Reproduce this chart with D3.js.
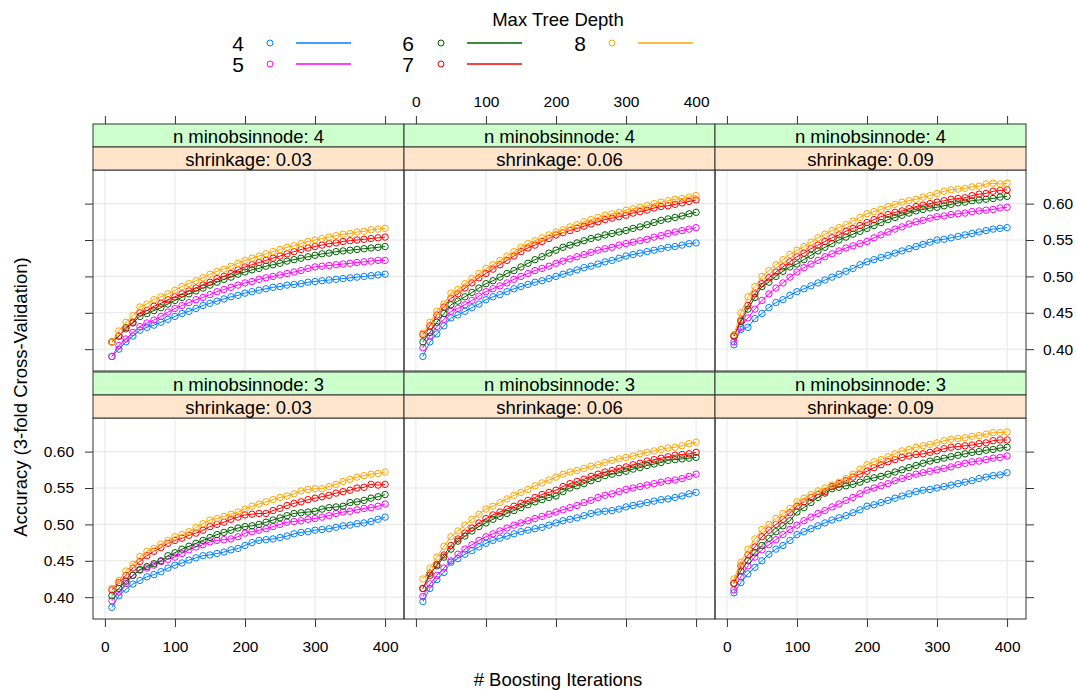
<!DOCTYPE html>
<html>
<head>
<meta charset="utf-8">
<script src="https://cdn.jsdelivr.net/npm/d3@7"></script>
<style>
  body { margin: 0; background: #fff; }
  text { font-family: "Liberation Sans", Arial, sans-serif; fill: #000; }
</style>
</head>
<body>
<div id="chart"></div>
<script>
// boosting iterations (x values of every series)
var iterations = [10,20,30,40,50,60,70,80,90,100,110,120,130,140,150,160,170,180,190,200,
                  210,220,230,240,250,260,270,280,290,300,310,320,330,340,350,360,370,380,390,400];
var depths = [4, 5, 6, 7, 8];
var depthColors = ["#0080ff", "#ff00ff", "#006400", "#ff0000", "#ffa500"];
var xTicks = [0, 100, 200, 300, 400];
var yTicks = [0.40, 0.45, 0.50, 0.55, 0.60];

// n.minobsinnode 4, shrinkage 0.03
var m4s03_d4 = [0.390,0.400,0.410,0.418,0.426,0.430,0.433,0.437,0.441,0.445,0.449,0.452,0.456,0.460,0.463,0.466,0.469,0.472,0.474,0.477,0.479,0.481,0.483,0.485,0.486,0.488,0.489,0.490,0.492,0.493,0.494,0.495,0.496,0.497,0.498,0.499,0.500,0.501,0.502,0.503];
var m4s03_d5 = [0.390,0.405,0.414,0.423,0.431,0.436,0.440,0.445,0.451,0.456,0.460,0.464,0.468,0.471,0.475,0.479,0.482,0.485,0.488,0.491,0.493,0.496,0.498,0.500,0.502,0.504,0.506,0.508,0.511,0.513,0.514,0.515,0.516,0.517,0.518,0.519,0.520,0.521,0.522,0.522];
var m4s03_d6 = [0.410,0.418,0.430,0.436,0.445,0.449,0.453,0.457,0.462,0.467,0.471,0.476,0.480,0.484,0.488,0.492,0.496,0.499,0.503,0.506,0.509,0.511,0.514,0.516,0.518,0.521,0.523,0.525,0.527,0.529,0.531,0.532,0.534,0.535,0.536,0.537,0.538,0.539,0.540,0.541];
var m4s03_d7 = [0.410,0.418,0.428,0.437,0.450,0.453,0.459,0.463,0.468,0.472,0.476,0.480,0.484,0.488,0.492,0.497,0.500,0.504,0.509,0.513,0.516,0.519,0.522,0.525,0.528,0.531,0.534,0.537,0.539,0.541,0.543,0.545,0.546,0.548,0.549,0.550,0.551,0.552,0.553,0.554];
var m4s03_d8 = [0.410,0.425,0.437,0.446,0.458,0.462,0.468,0.472,0.476,0.481,0.486,0.490,0.494,0.498,0.503,0.507,0.510,0.514,0.518,0.522,0.525,0.528,0.531,0.534,0.537,0.540,0.542,0.545,0.548,0.550,0.552,0.554,0.556,0.558,0.559,0.561,0.562,0.564,0.565,0.566];

// n.minobsinnode 4, shrinkage 0.06
var m4s06_d4 = [0.390,0.410,0.421,0.432,0.443,0.447,0.452,0.457,0.462,0.468,0.472,0.475,0.479,0.483,0.486,0.489,0.492,0.494,0.497,0.500,0.503,0.506,0.509,0.512,0.514,0.517,0.520,0.522,0.525,0.528,0.530,0.532,0.534,0.536,0.538,0.540,0.541,0.543,0.545,0.546];
var m4s06_d5 = [0.402,0.418,0.431,0.441,0.452,0.456,0.461,0.467,0.473,0.479,0.483,0.487,0.491,0.496,0.500,0.504,0.508,0.511,0.514,0.518,0.521,0.524,0.527,0.530,0.533,0.536,0.538,0.540,0.543,0.545,0.547,0.549,0.551,0.554,0.556,0.559,0.561,0.563,0.565,0.567];
var m4s06_d6 = [0.410,0.423,0.437,0.449,0.461,0.466,0.472,0.478,0.484,0.490,0.494,0.499,0.504,0.508,0.513,0.518,0.523,0.527,0.532,0.536,0.540,0.543,0.546,0.549,0.552,0.554,0.557,0.559,0.561,0.563,0.566,0.568,0.571,0.574,0.577,0.579,0.581,0.583,0.586,0.588];
var m4s06_d7 = [0.420,0.432,0.447,0.458,0.470,0.476,0.484,0.491,0.498,0.504,0.510,0.516,0.522,0.528,0.534,0.539,0.543,0.548,0.552,0.557,0.560,0.563,0.566,0.569,0.572,0.575,0.578,0.580,0.582,0.584,0.587,0.589,0.591,0.594,0.596,0.597,0.599,0.601,0.603,0.605];
var m4s06_d8 = [0.422,0.437,0.452,0.462,0.477,0.482,0.490,0.497,0.504,0.511,0.516,0.522,0.528,0.534,0.540,0.545,0.549,0.553,0.557,0.561,0.564,0.568,0.571,0.575,0.578,0.581,0.584,0.586,0.588,0.591,0.593,0.595,0.597,0.600,0.602,0.604,0.606,0.607,0.609,0.611];

// n.minobsinnode 4, shrinkage 0.09
var m4s09_d4 = [0.406,0.427,0.430,0.442,0.449,0.457,0.464,0.468,0.474,0.479,0.483,0.487,0.491,0.495,0.499,0.503,0.507,0.511,0.516,0.520,0.523,0.526,0.529,0.532,0.535,0.538,0.541,0.544,0.547,0.550,0.551,0.553,0.555,0.557,0.559,0.561,0.563,0.565,0.566,0.567];
var m4s09_d5 = [0.410,0.430,0.443,0.455,0.467,0.476,0.484,0.491,0.499,0.506,0.512,0.517,0.522,0.527,0.531,0.535,0.539,0.542,0.545,0.548,0.553,0.557,0.561,0.565,0.568,0.572,0.575,0.577,0.580,0.582,0.583,0.585,0.586,0.587,0.589,0.590,0.591,0.592,0.594,0.595];
var m4s09_d6 = [0.418,0.438,0.455,0.471,0.486,0.492,0.500,0.507,0.513,0.517,0.523,0.529,0.535,0.540,0.545,0.550,0.554,0.558,0.562,0.566,0.570,0.574,0.578,0.581,0.584,0.587,0.590,0.592,0.594,0.595,0.597,0.599,0.601,0.602,0.604,0.605,0.606,0.607,0.609,0.610];
var m4s09_d7 = [0.418,0.440,0.460,0.476,0.490,0.498,0.506,0.513,0.520,0.527,0.532,0.538,0.543,0.548,0.553,0.557,0.562,0.566,0.570,0.574,0.578,0.582,0.585,0.588,0.590,0.593,0.596,0.598,0.600,0.602,0.604,0.606,0.607,0.608,0.611,0.613,0.614,0.617,0.618,0.619];
var m4s09_d8 = [0.420,0.450,0.472,0.486,0.500,0.508,0.516,0.523,0.530,0.536,0.541,0.547,0.553,0.558,0.563,0.567,0.571,0.576,0.581,0.586,0.589,0.592,0.596,0.599,0.602,0.604,0.606,0.609,0.611,0.614,0.617,0.619,0.620,0.621,0.623,0.624,0.627,0.628,0.627,0.628];

// n.minobsinnode 3, shrinkage 0.03
var m3s03_d4 = [0.386,0.402,0.411,0.418,0.423,0.428,0.431,0.435,0.440,0.444,0.447,0.451,0.454,0.457,0.458,0.460,0.462,0.465,0.467,0.471,0.475,0.478,0.479,0.480,0.482,0.484,0.487,0.489,0.490,0.492,0.493,0.494,0.496,0.498,0.499,0.501,0.502,0.504,0.507,0.510];
var m3s03_d5 = [0.395,0.407,0.419,0.430,0.437,0.440,0.444,0.449,0.452,0.455,0.460,0.465,0.469,0.472,0.476,0.478,0.479,0.480,0.483,0.488,0.490,0.492,0.494,0.497,0.500,0.503,0.504,0.505,0.507,0.508,0.510,0.512,0.515,0.517,0.518,0.520,0.522,0.523,0.525,0.528];
var m3s03_d6 = [0.402,0.412,0.422,0.430,0.438,0.442,0.446,0.450,0.457,0.461,0.466,0.470,0.474,0.478,0.482,0.486,0.489,0.492,0.495,0.497,0.498,0.500,0.503,0.506,0.509,0.512,0.515,0.516,0.517,0.518,0.521,0.523,0.524,0.525,0.530,0.531,0.533,0.536,0.538,0.541];
var m3s03_d7 = [0.410,0.420,0.430,0.440,0.449,0.457,0.463,0.468,0.474,0.478,0.481,0.485,0.488,0.492,0.497,0.500,0.503,0.507,0.510,0.513,0.514,0.515,0.515,0.519,0.522,0.526,0.529,0.531,0.534,0.536,0.538,0.540,0.543,0.545,0.547,0.550,0.551,0.555,0.554,0.555];
var m3s03_d8 = [0.412,0.423,0.436,0.445,0.456,0.463,0.467,0.473,0.478,0.483,0.486,0.490,0.496,0.501,0.506,0.508,0.511,0.514,0.517,0.521,0.525,0.528,0.531,0.534,0.537,0.539,0.542,0.546,0.548,0.549,0.549,0.552,0.555,0.559,0.562,0.565,0.567,0.569,0.570,0.572];

// n.minobsinnode 3, shrinkage 0.06
var m3s06_d4 = [0.394,0.412,0.424,0.434,0.448,0.453,0.459,0.464,0.469,0.474,0.478,0.481,0.484,0.487,0.490,0.492,0.494,0.496,0.499,0.502,0.505,0.507,0.509,0.512,0.515,0.517,0.518,0.519,0.521,0.524,0.526,0.528,0.530,0.532,0.534,0.535,0.537,0.539,0.542,0.544];
var m3s06_d5 = [0.401,0.418,0.430,0.440,0.450,0.459,0.466,0.472,0.478,0.483,0.487,0.491,0.495,0.499,0.502,0.505,0.508,0.511,0.514,0.517,0.520,0.523,0.526,0.530,0.533,0.537,0.540,0.542,0.545,0.548,0.550,0.552,0.554,0.556,0.558,0.560,0.561,0.563,0.566,0.569];
var m3s06_d6 = [0.412,0.433,0.443,0.455,0.466,0.477,0.484,0.491,0.497,0.502,0.507,0.511,0.515,0.519,0.523,0.527,0.531,0.534,0.537,0.539,0.545,0.550,0.553,0.556,0.560,0.563,0.567,0.569,0.571,0.573,0.576,0.578,0.581,0.583,0.585,0.588,0.589,0.590,0.591,0.592];
var m3s06_d7 = [0.412,0.430,0.445,0.458,0.471,0.480,0.488,0.495,0.502,0.508,0.513,0.517,0.521,0.525,0.529,0.533,0.537,0.541,0.544,0.547,0.552,0.556,0.559,0.562,0.566,0.569,0.572,0.574,0.577,0.579,0.582,0.584,0.587,0.589,0.591,0.593,0.595,0.596,0.597,0.599];
var m3s06_d8 = [0.425,0.440,0.455,0.470,0.483,0.491,0.499,0.507,0.514,0.521,0.525,0.530,0.535,0.540,0.544,0.548,0.553,0.557,0.561,0.565,0.569,0.572,0.574,0.577,0.580,0.582,0.585,0.588,0.590,0.592,0.594,0.597,0.599,0.601,0.603,0.605,0.606,0.608,0.611,0.613];

// n.minobsinnode 3, shrinkage 0.09
var m3s09_d4 = [0.406,0.420,0.432,0.441,0.450,0.459,0.466,0.471,0.478,0.486,0.490,0.494,0.498,0.502,0.506,0.509,0.512,0.516,0.520,0.525,0.527,0.530,0.533,0.536,0.539,0.542,0.545,0.547,0.548,0.550,0.552,0.554,0.556,0.558,0.560,0.563,0.565,0.567,0.568,0.571];
var m3s09_d5 = [0.410,0.428,0.443,0.455,0.465,0.472,0.479,0.486,0.493,0.499,0.505,0.510,0.515,0.519,0.524,0.528,0.533,0.537,0.542,0.547,0.550,0.553,0.556,0.560,0.563,0.566,0.569,0.571,0.573,0.575,0.577,0.579,0.582,0.584,0.586,0.587,0.589,0.591,0.592,0.594];
var m3s09_d6 = [0.419,0.436,0.450,0.461,0.471,0.481,0.490,0.498,0.505,0.517,0.523,0.530,0.537,0.543,0.549,0.551,0.553,0.555,0.558,0.562,0.564,0.566,0.569,0.572,0.575,0.578,0.581,0.584,0.587,0.589,0.591,0.593,0.595,0.597,0.599,0.600,0.602,0.603,0.605,0.606];
var m3s09_d7 = [0.419,0.443,0.458,0.469,0.483,0.492,0.500,0.507,0.516,0.525,0.531,0.537,0.541,0.545,0.552,0.556,0.560,0.565,0.569,0.573,0.578,0.582,0.586,0.589,0.592,0.594,0.596,0.597,0.599,0.601,0.604,0.606,0.607,0.608,0.609,0.611,0.612,0.615,0.616,0.616];
var m3s09_d8 = [0.425,0.448,0.466,0.480,0.493,0.500,0.508,0.515,0.522,0.531,0.536,0.541,0.546,0.550,0.554,0.558,0.563,0.569,0.576,0.582,0.586,0.589,0.593,0.597,0.601,0.603,0.606,0.608,0.610,0.612,0.615,0.617,0.618,0.619,0.621,0.622,0.624,0.626,0.626,0.627];

// panels in reading order (top row first)
var panels = [
  {minobs: 4, shrink: "0.03", series: [m4s03_d4, m4s03_d5, m4s03_d6, m4s03_d7, m4s03_d8]},
  {minobs: 4, shrink: "0.06", series: [m4s06_d4, m4s06_d5, m4s06_d6, m4s06_d7, m4s06_d8]},
  {minobs: 4, shrink: "0.09", series: [m4s09_d4, m4s09_d5, m4s09_d6, m4s09_d7, m4s09_d8]},
  {minobs: 3, shrink: "0.03", series: [m3s03_d4, m3s03_d5, m3s03_d6, m3s03_d7, m3s03_d8]},
  {minobs: 3, shrink: "0.06", series: [m3s06_d4, m3s06_d5, m3s06_d6, m3s06_d7, m3s06_d8]},
  {minobs: 3, shrink: "0.09", series: [m3s09_d4, m3s09_d5, m3s09_d6, m3s09_d7, m3s09_d8]}
];

var svg = d3.select("#chart").append("svg")
    .attr("width", 1076)
    .attr("height", 690);

var panelLeft = [93, 404, 715], panelW = 311;
var rowTop = [124, 372], stripH = 23, plotH = 201;
var tick = 8, frameCol = "#333";

panels.forEach(function (p, i) {
    var row = i < 3 ? 0 : 1, col = i % 3;
    var x0 = panelLeft[col];
    var pTop = rowTop[row] + 2 * stripH, pBot = pTop + plotH;

    var x = d3.scaleLinear().domain([-17, 427]).range([x0, x0 + panelW]);
    var y = d3.scaleLinear().domain([0.370, 0.6462]).range([pBot, pTop]);

    var g = svg.append("g");

    // grid
    g.selectAll("line.gx").data(xTicks).enter().append("line")
        .attr("x1", function (d) { return x(d); }).attr("x2", function (d) { return x(d); })
        .attr("y1", pTop).attr("y2", pBot)
        .attr("stroke", "#e6e6e6");
    g.selectAll("line.gy").data(yTicks).enter().append("line")
        .attr("y1", function (d) { return y(d); }).attr("y2", function (d) { return y(d); })
        .attr("x1", x0).attr("x2", x0 + panelW)
        .attr("stroke", "#e6e6e6");

    // series
    var line = d3.line()
        .x(function (d, j) { return x(iterations[j]); })
        .y(function (d) { return y(d); });

    p.series.forEach(function (vals, k) {
        g.append("path")
            .datum(vals)
            .attr("d", line)
            .attr("fill", "none")
            .attr("stroke", depthColors[k])
            .attr("stroke-width", 1);
        g.selectAll("circle.s" + k).data(vals).enter().append("circle")
            .attr("cx", function (d, j) { return x(iterations[j]); })
            .attr("cy", function (d) { return y(d); })
            .attr("r", 3.2)
            .attr("fill", "none")
            .attr("stroke", depthColors[k])
            .attr("stroke-width", 1);
    });

    // frame
    g.append("rect")
        .attr("x", x0).attr("y", pTop).attr("width", panelW).attr("height", plotH)
        .attr("fill", "none").attr("stroke", frameCol);

    // strips
    var strips = [
        {label: "n minobsinnode: " + p.minobs, fill: "#ccffcc"},
        {label: "shrinkage: " + p.shrink, fill: "#ffe5cc"}
    ];
    strips.forEach(function (s, k) {
        var sy = rowTop[row] + k * stripH;
        g.append("rect")
            .attr("x", x0).attr("y", sy).attr("width", panelW).attr("height", stripH)
            .attr("fill", s.fill).attr("stroke", frameCol);
        g.append("text")
            .attr("x", x0 + panelW / 2).attr("y", sy + stripH / 2 + 7)
            .attr("text-anchor", "middle")
            .style("font-size", "18.5px")
            .text(s.label);
    });

    // axes (lattice style: alternating labels)
    function styleAxis(a) {
        a.select(".domain").remove();
        a.selectAll(".tick line").attr("stroke", frameCol);
        a.selectAll(".tick text").style("font-size", "15.5px").attr("fill", "#000");
    }
    var none = function () { return ""; };
    if (row === 0) {
        var top = svg.append("g")
            .attr("transform", "translate(0," + rowTop[0] + ")")
            .call(d3.axisTop(x).tickValues(xTicks).tickSize(tick).tickPadding(9)
                .tickFormat(col === 1 ? d3.format("d") : none));
        styleAxis(top);
    } else {
        var bot = svg.append("g")
            .attr("transform", "translate(0," + pBot + ")")
            .call(d3.axisBottom(x).tickValues(xTicks).tickSize(tick).tickPadding(14)
                .tickFormat(col !== 1 ? d3.format("d") : none));
        styleAxis(bot);
    }
    if (col === 0) {
        var left = svg.append("g")
            .attr("transform", "translate(" + x0 + ",0)")
            .call(d3.axisLeft(y).tickValues(yTicks).tickSize(tick).tickPadding(11)
                .tickFormat(row === 1 ? d3.format(".2f") : none));
        styleAxis(left);
    }
    if (col === 2) {
        var right = svg.append("g")
            .attr("transform", "translate(" + (x0 + panelW) + ",0)")
            .call(d3.axisRight(y).tickValues(yTicks).tickSize(tick).tickPadding(9)
                .tickFormat(row === 0 ? d3.format(".2f") : none));
        styleAxis(right);
    }
});

// axis titles
svg.append("text")
    .attr("x", 558).attr("y", 686)
    .attr("text-anchor", "middle")
    .style("font-size", "18.5px")
    .text("# Boosting Iterations");

svg.append("text")
    .attr("transform", "translate(27,397) rotate(-90)")
    .attr("text-anchor", "middle")
    .style("font-size", "18.5px")
    .text("Accuracy (3-fold Cross-Validation)");

// legend
svg.append("text")
    .attr("x", 558).attr("y", 26)
    .attr("text-anchor", "middle")
    .style("font-size", "18.5px")
    .text("Max Tree Depth");

var legCols = [{tx: 238, px: 270, lx: 296}, {tx: 408, px: 441, lx: 467}, {tx: 580, px: 612, lx: 638}];
var legRows = [43, 64];
var legend = svg.append("g");
depths.forEach(function (d, k) {
    var c = legCols[Math.floor(k / 2)], ly = legRows[k % 2];
    legend.append("text")
        .attr("x", c.tx).attr("y", ly + 7.5)
        .attr("text-anchor", "middle")
        .style("font-size", "21px")
        .text(d);
    legend.append("circle")
        .attr("cx", c.px).attr("cy", ly).attr("r", 3)
        .attr("fill", "none").attr("stroke", depthColors[k]);
    legend.append("line")
        .attr("x1", c.lx).attr("x2", c.lx + 55)
        .attr("y1", ly).attr("y2", ly)
        .attr("stroke", depthColors[k]).attr("stroke-width", 1.5);
});
</script>
</body>
</html>
